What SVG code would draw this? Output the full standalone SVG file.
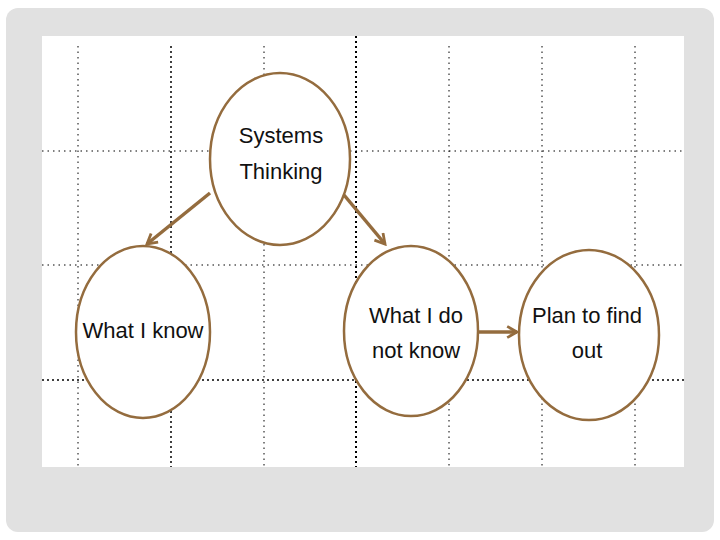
<svg xmlns="http://www.w3.org/2000/svg" width="720" height="540" viewBox="0 0 720 540">
<defs>
<style>
.grid{stroke:#000;stroke-width:1;stroke-dasharray:1.5 4;fill:none}
.gridb{stroke:#000;stroke-width:2;stroke-dasharray:2 3;fill:none}
.node{fill:#fff;stroke:#946c3e;stroke-width:2.5}
.lbl{font-family:"Liberation Sans",Arial,sans-serif;font-size:22px;fill:#111;text-anchor:middle}
.conn{stroke:#946c3e;stroke-width:3.5;fill:none}
</style>
<marker id="ah" viewBox="0 0 10 10" refX="8" refY="5" markerWidth="4" markerHeight="4" orient="auto" markerUnits="strokeWidth">
<path d="M1,1 L8,5 L1,9" fill="none" stroke="#946c3e" stroke-width="2"/>
</marker>
</defs>
<rect x="6" y="8" width="708" height="524" rx="12" fill="#e1e1e1"/>
<rect x="42" y="36" width="642" height="431" fill="#fff"/>
<g id="grid">
<line class="grid" x1="78" y1="46" x2="78" y2="467"/>
<line class="gridb" x1="171" y1="46" x2="171" y2="467" style="stroke-width:1.5"/>
<line class="grid" x1="264" y1="46" x2="264" y2="467"/>
<line class="gridb" x1="356" y1="36" x2="356" y2="467"/>
<line class="grid" x1="449" y1="46" x2="449" y2="467"/>
<line class="grid" x1="542" y1="46" x2="542" y2="467"/>
<line class="grid" x1="635" y1="46" x2="635" y2="467"/>
<line class="grid" x1="42" y1="151" x2="684" y2="151"/>
<line class="grid" x1="42" y1="265" x2="684" y2="265"/>
<line class="gridb" x1="42" y1="380" x2="684" y2="380" style="stroke-width:1.5"/>
</g>
<g id="n1"><ellipse class="node" cx="280" cy="159" rx="70" ry="86"/><text class="lbl" x="281" y="143">Systems</text><text class="lbl" x="281" y="179">Thinking</text></g>
<g id="n2"><ellipse class="node" cx="143" cy="332" rx="67" ry="86"/><text class="lbl" x="143" y="338">What I know</text></g>
<g id="n3"><ellipse class="node" cx="411" cy="331" rx="67" ry="85"/><text class="lbl" x="416" y="323">What I do</text><text class="lbl" x="416" y="358">not know</text></g>
<g id="n4"><ellipse class="node" cx="589" cy="335" rx="70" ry="85"/><text class="lbl" x="587" y="323">Plan to find</text><text class="lbl" x="587" y="358">out</text></g>
<g id="connectors">
<line class="conn" x1="210" y1="193" x2="147" y2="244" marker-end="url(#ah)"/>
<line class="conn" x1="344" y1="195" x2="385" y2="244" marker-end="url(#ah)"/>
<line class="conn" x1="479" y1="332" x2="517" y2="332" marker-end="url(#ah)"/>
</g>
</svg>
